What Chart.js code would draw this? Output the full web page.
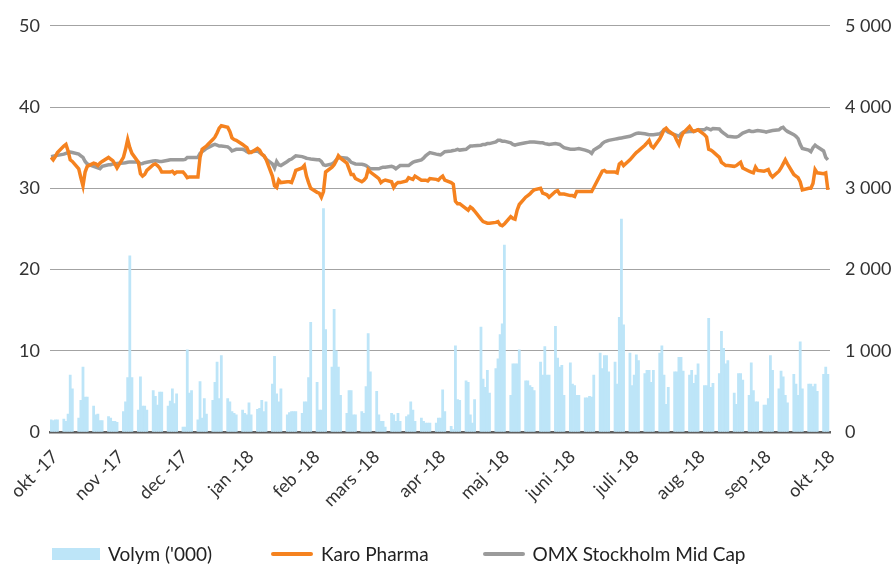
<!DOCTYPE html>
<html>
<head>
<meta charset="utf-8">
<script src="https://cdn.jsdelivr.net/npm/chart.js@4.4.1/dist/chart.umd.min.js"></script>
<style>
  body { margin: 0; background: #fff; }
  #wrap { position: relative; width: 895px; height: 564px; }
  #legend { position: absolute; left: 52px; top: 542px; display: flex; align-items: center;
            font: 19px Lato, sans-serif; color: #222; }
  .item { display: flex; align-items: center; margin-right: 56px; }
  .item:nth-child(2) { margin-right: 51px; }
  .sw { width: 48px; height: 12px; margin-right: 8px; }
  .ln { width: 42px; height: 4px; margin: 0 8px 0 3px; border-radius: 2px; }
</style>
</head>
<body>
<div id="wrap">
  <canvas id="chart" width="895" height="564"></canvas>
  <div id="legend"></div>
</div>
<script>
// x-axis month labels (tick on the 3rd of each month, okt 2017 .. okt 2018)
const monthLabels = ['okt -17','nov -17','dec -17','jan -18','feb -18','mars -18','apr -18',
                     'maj -18','juni -18','juli -18','aug -18','sep -18','okt -18'];

// daily volume ('000), one row per trading week (first row = 3-6 okt, last = 1-3 okt)
const volym = [
  150, 140, 150, 150,
  160, 130, 220, 700, 530,
  170, 390, 800, 430, 430,
  320, 210, 220, 140, 140,
  190, 170, 130, 130, 120,
  250, 370, 670, 2170, 670,
  270, 680, 320, 320, 270,
  510, 440, 330, 490, 490,
  320, 380, 530, 350, 470,
  60, 60, 1010, 480, 510,
  150, 620, 170, 410, 220,
  390, 610, 860, 410, 940,
  410, 370, 250, 230, 210,
  270, 230, 210, 360, 210,
  280, 290, 390, 250, 370,
  590, 930, 470, 370, 530,
  210, 240, 250, 250, 250,
  230, 370, 370, 670, 1350,
  610, 270, 270, 2750, 1260,
  800, 1510, 1000, 800, 450,
  230, 510, 510, 210, 210,
  250, 230, 560, 1210, 740,
  500, 210, 130, 130, 60,
  230, 210, 130, 230, 130,
  190, 210, 370, 270, 130,
  170, 130, 110, 110, 110,
  110, 170, 170, 520, 250,
  70, 30, 1060, 400, 390,
  630, 610, 210, 110, 400,
  1290, 650, 550, 760, 480,
  780, 900, 1200, 1330, 2300,
  450, 840, 840, 840, 1010,
  630, 630, 570, 550, 510,
  860, 700, 1050, 700, 700,
  1300, 910, 800, 820, 450,
  850, 590, 570, 450, 450,
  420, 420, 440, 430, 700,
  970, 780, 940, 940, 740,
  860, 590, 1410, 2620, 1320,
  970, 570, 700, 950, 880,
  720, 760, 760, 610, 760,
  970, 1060, 700, 340, 550,
  740, 740, 920, 920, 750,
  700, 760, 600, 700, 840,
  570, 570, 1400, 550, 600,
  720, 1240, 1030, 840, 880,
  480, 340, 720, 720, 640,
  450, 850, 510, 370, 370,
  330, 330, 410, 940, 760,
  530, 750, 680, 450, 360,
  710, 590, 450, 1110, 530,
  590, 590, 560, 590, 500,
  710, 800, 710
];

// Karo Pharma share price (SEK, left axis)
const karo = [
  33.8, 33.5, 33.9, 34.4,
  35.2, 35.4, 34.6, 33.5, 33.3,
  32.4, 31.3, 30.3, 32.0, 32.7,
  33.1, 33.0, 32.8, 33.1, 33.3,
  33.8, 33.6, 33.4, 33.0, 32.5,
  33.8, 34.8, 36.0, 35.0, 34.3,
  33.2, 31.8, 31.5, 31.7, 32.2,
  32.9, 33.0, 32.8, 32.5, 32.0,
  32.0, 32.0, 32.1, 31.8, 32.0,
  32.0, 31.7, 31.3, 31.4, 31.4,
  31.4, 33.8, 34.8, 35.0, 35.2,
  36.0, 36.3, 36.8, 37.4, 37.7,
  37.5, 37.0, 36.2, 36.0, 35.9,
  35.4, 35.2, 35.0, 34.4, 34.4,
  34.9, 34.7, 34.2, 34.0, 33.6,
  31.5, 30.3, 30.1, 31.0, 30.7,
  30.8, 30.8, 30.7, 31.4, 32.2,
  32.5, 32.8, 31.5, 30.7, 30.0,
  29.5, 29.4, 28.9, 29.6, 32.0,
  32.6, 32.9, 33.4, 34.0, 33.7,
  33.1, 32.4, 31.7, 31.7, 31.2,
  30.8, 31.0, 31.3, 32.3, 32.0,
  31.4, 31.2, 30.7, 30.9, 31.0,
  30.8, 30.1, 30.5, 30.7, 30.7,
  30.9, 31.3, 31.2, 31.1, 31.5,
  31.0, 31.0, 31.0, 30.9, 31.2,
  31.1, 31.0, 31.3, 31.5, 31.0,
  30.7, 30.5, 28.4, 28.1, 28.1,
  27.5, 27.3, 27.7, 27.5, 27.2,
  26.2, 25.9, 25.8, 25.7, 25.7,
  25.8, 25.9, 25.5, 25.4, 25.6,
  26.5, 26.3, 26.2, 27.3, 28.0,
  28.9, 29.1, 29.3, 29.6, 29.8,
  30.0, 29.4, 29.3, 29.2, 28.9,
  29.6, 29.7, 29.3, 29.3, 29.3,
  29.1, 29.1, 29.0, 29.6, 29.6,
  29.6, 29.6, 29.6, 29.6, 30.1,
  31.6, 32.1, 32.2, 32.0, 32.0,
  32.0, 31.9, 33.0, 33.2, 32.8,
  33.5, 33.8, 34.1, 34.4, 34.6,
  35.3, 35.6, 35.9, 35.2, 35.0,
  36.1, 36.6, 37.2, 37.4, 37.1,
  36.5, 35.9, 35.4, 36.3, 36.8,
  37.6, 37.2, 37.0, 37.1, 37.2,
  36.6, 36.3, 34.8, 34.7, 34.5,
  33.8, 33.2, 33.0, 32.8, 32.8,
  32.7, 32.8, 33.0, 33.2, 32.5,
  32.1, 32.0, 31.9, 32.6, 32.2,
  32.1, 32.2, 32.3, 31.7, 31.4,
  32.1, 32.5, 33.0, 33.5, 33.0,
  31.7, 31.5, 31.3, 30.8, 29.8,
  30.0, 30.0, 30.6, 32.3, 31.9,
  31.8, 31.9, 29.8
];

// OMX Stockholm Mid Cap index (right axis)
const omx = [
  3390, 3395, 3400, 3405,
  3420, 3430, 3440, 3445, 3440,
  3420, 3400, 3380, 3330, 3300,
  3270, 3260, 3250, 3240, 3270,
  3290, 3290, 3300, 3300, 3305,
  3310, 3315, 3320, 3325, 3325,
  3320, 3300, 3305, 3315, 3320,
  3335, 3340, 3335, 3330, 3330,
  3345, 3350, 3350, 3350, 3350,
  3350, 3355, 3380, 3380, 3380,
  3380, 3430, 3450, 3470, 3490,
  3530, 3540, 3530, 3520, 3520,
  3510, 3490, 3460, 3470, 3480,
  3480, 3470, 3450, 3440, 3450,
  3460, 3440, 3420, 3400, 3360,
  3300, 3250, 3330, 3290, 3280,
  3330, 3350, 3360, 3380, 3400,
  3390, 3380, 3370, 3365, 3360,
  3350, 3350, 3330, 3290, 3280,
  3300, 3320, 3350, 3380, 3380,
  3370, 3350, 3320, 3310, 3300,
  3295, 3290, 3280, 3260, 3240,
  3240, 3240, 3250, 3260, 3260,
  3270, 3260, 3240, 3260, 3280,
  3280, 3280, 3300, 3320, 3330,
  3350, 3370, 3400, 3420, 3440,
  3420, 3415, 3410, 3430, 3450,
  3460, 3465, 3470, 3480, 3470,
  3480, 3500, 3520, 3520, 3525,
  3530, 3540, 3540, 3550, 3550,
  3570, 3590, 3590, 3580, 3580,
  3560, 3540, 3530, 3540, 3545,
  3560, 3565, 3570, 3570, 3570,
  3560, 3560, 3550, 3545, 3540,
  3550, 3545, 3540, 3520, 3500,
  3480, 3480, 3480, 3485, 3490,
  3470, 3460, 3450, 3430, 3470,
  3520, 3550, 3570, 3580, 3590,
  3605, 3610, 3615, 3620, 3625,
  3640, 3650, 3665, 3675, 3680,
  3670, 3665, 3660, 3660, 3660,
  3670, 3690, 3720, 3710, 3690,
  3660, 3650, 3640, 3670, 3690,
  3700, 3700, 3700, 3710, 3720,
  3720, 3740, 3730, 3720, 3735,
  3730, 3700, 3680, 3660, 3640,
  3630, 3630, 3640, 3660, 3680,
  3710, 3700, 3700, 3705, 3710,
  3700, 3690, 3700, 3705, 3710,
  3720, 3740, 3750, 3720, 3700,
  3660, 3640, 3610, 3540, 3490,
  3470, 3450, 3500, 3530, 3510,
  3460, 3380, 3350
];

const COL = { vol: '#bde5f8', karo: '#f5821f', omx: '#9b9b9b' };
const FONT = 'Lato, sans-serif';

// trading days 3 okt 2017 - 3 okt 2018, as day numbers from 1 okt 2017
const T0 = Date.UTC(2017, 9, 1);
const dayNo = t => Math.round((t - T0) / 864e5);
const days = [];
for (let t = Date.UTC(2017, 9, 3); t <= Date.UTC(2018, 9, 3); t += 864e5) {
  const wd = new Date(t).getUTCDay();
  if (wd !== 0 && wd !== 6) days.push(dayNo(t));
}
const monthTicks = monthLabels.map((l, i) => dayNo(Date.UTC(2017, 9 + i, 3)));

const pts = arr => days.map((d, i) => ({ x: d, y: arr[i] }));

const fmt = v => String(v).replace(/\B(?=(\d{3})+(?!\d))/g, ' ');

new Chart(document.getElementById('chart'), {
  data: {
    datasets: [
      { type: 'bar', label: "Volym ('000)", data: pts(volym), yAxisID: 'yR',
        backgroundColor: COL.vol, barPercentage: 1, categoryPercentage: 1, order: 3 },
      { type: 'line', label: 'Karo Pharma', data: pts(karo), yAxisID: 'yL',
        borderColor: COL.karo, borderWidth: 3.5, pointRadius: 0, tension: 0, order: 1 },
      { type: 'line', label: 'OMX Stockholm Mid Cap', data: pts(omx), yAxisID: 'yR',
        borderColor: COL.omx, borderWidth: 3.5, pointRadius: 0, tension: 0, order: 2 }
    ]
  },
  options: {
    responsive: false, animation: false,
    layout: { padding: { top: 22, left: 0, right: 0, bottom: 0 } },
    plugins: { legend: { display: false }, tooltip: { enabled: false } },
    scales: {
      x: {
        type: 'linear', min: 1.5, max: 368, offset: false,
        afterBuildTicks: s => { s.ticks = monthTicks.map(v => ({ value: v })); },
        afterFit: s => { s.height = 132; },
        grid: { display: false },
        border: { display: true, color: '#5f5f5f', width: 2.5 },
        ticks: { autoSkip: false, minRotation: 45, maxRotation: 45, padding: 6, labelOffset: 4,
                 color: '#333', font: { family: FONT, size: 18 },
                 callback: (v, i) => monthLabels[i] }
      },
      yL: {
        position: 'left', min: 0, max: 50,
        afterFit: s => { s.width = 50; },
        grid: { color: '#a3a3a3', lineWidth: 1, drawTicks: false },
        border: { display: false },
        ticks: { stepSize: 10, padding: 10, color: '#333', font: { family: FONT, size: 18 } }
      },
      yR: {
        position: 'right', min: 0, max: 5000,
        afterFit: s => { s.width = 65; },
        grid: { drawOnChartArea: false, drawTicks: false },
        border: { display: false },
        ticks: { stepSize: 1000, padding: 15, color: '#333', font: { family: FONT, size: 18 },
                 callback: v => fmt(v) }
      }
    }
  }
});

// legend below the plot
const legend = document.getElementById('legend');
[["Volym ('000)", 'sw', COL.vol], ['Karo Pharma', 'ln', COL.karo], ['OMX Stockholm Mid Cap', 'ln', COL.omx]]
  .forEach(([txt, cls, c]) => {
    const it = document.createElement('div'); it.className = 'item';
    const m = document.createElement('span'); m.className = cls; m.style.background = c;
    const t = document.createElement('span'); t.textContent = txt;
    it.appendChild(m); it.appendChild(t); legend.appendChild(it);
  });
</script>
</body>
</html>
